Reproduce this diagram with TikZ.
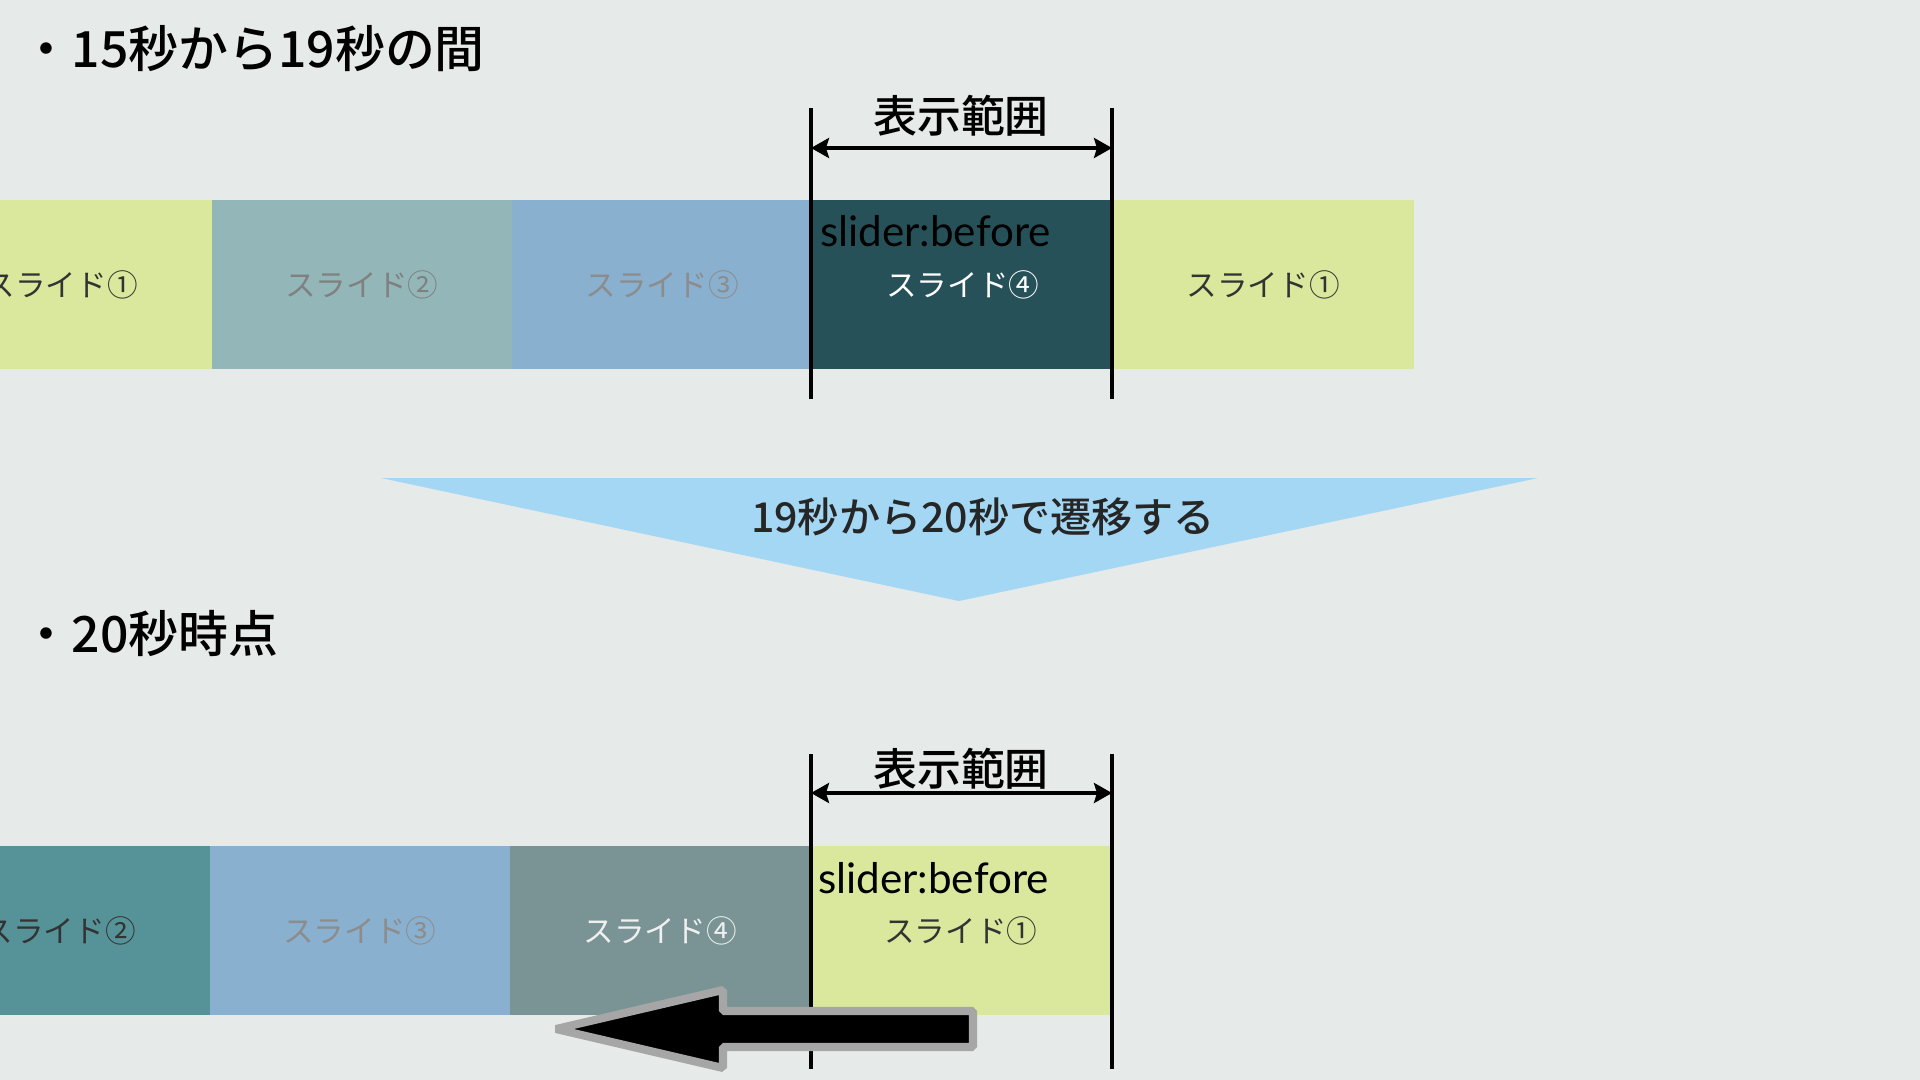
\documentclass[tikz,border=0pt]{standalone}
\usepackage{fontspec}
\setmainfont{Noto Sans CJK JP}
\newfontfamily\midfont{Noto Sans CJK JP Medium}
\newfontfamily\tagfont{Lato}
\usepackage{xcolor}
\usepackage{tikz}
\usetikzlibrary{arrows.meta, positioning, calc}

\definecolor{paper}{HTML}{E6EAE9}
\definecolor{lime}{HTML}{D9E89C}
\definecolor{sage}{HTML}{93B7B9}
\definecolor{steel}{HTML}{89B0CE}
\definecolor{deepteal}{HTML}{265159}
\definecolor{teal}{HTML}{569399}
\definecolor{slate}{HTML}{7A9495}
\definecolor{sky}{HTML}{A4D7F3}

\begin{document}
\begin{tikzpicture}[
        slide/.style={
            rectangle,
            minimum width=3.005cm,
            minimum height=1.69cm,
            inner sep=0pt,
            outer sep=0pt,
            text=black!80,
            font=\fontsize{8.7pt}{10pt}\selectfont
        },
        heading/.style={
            anchor=west,
            inner sep=0pt,
            font=\midfont\fontsize{14.2pt}{17pt}\selectfont
        },
        rangelabel/.style={
            inner sep=0pt,
            font=\midfont\fontsize{12.5pt}{15pt}\selectfont
        },
        tag/.style={
            anchor=west,
            inner sep=0pt,
            font=\tagfont\fontsize{12pt}{14pt}\selectfont
        },
        marker/.style={
            draw,
            line width=1.1pt
        },
        span/.style={
            draw,
            line width=1pt,
            {Stealth[length=1.8mm, width=2mm, inset=0.3mm]}-{Stealth[length=1.8mm, width=2mm, inset=0.3mm]}
        }
    ]
    \useasboundingbox[fill=paper] (0,0) rectangle (19.2,-10.8);
    \clip (0,0) rectangle (19.2,-10.8);

    % Headings
    \node[heading] (head1) at (0.21,-0.49) {・15秒から19秒の間};
    \node[heading] (head2) at (0.21,-6.34) {・20秒時点};

    % Nodes (15-19 s)
    \node[slide, fill=lime] (t1) at (0.6125,-2.845) {スライド①};
    \node[slide, fill=sage, text=black!50, right=0pt of t1] (t2) {スライド②};
    \node[slide, fill=steel, text=black!45, right=0pt of t2] (t3) {スライド③};
    \node[slide, fill=deepteal, text=white, right=0pt of t3] (t4) {スライド④};
    \node[slide, fill=lime, right=0pt of t4] (t5) {スライド①};
    \node[tag] (t4tag) at ($(t4.north west)+(0.07,-0.31)$) {slider:before};

    % Transition
    \fill[sky] (3.81,-4.78) -- (15.38,-4.78) -- (9.59,-6.01) -- cycle;
    \node[font=\midfont\fontsize{11.7pt}{14pt}\selectfont, text=black!85] (move) at (9.83,-5.17) {19秒から20秒で遷移する};

    % Nodes (20 s)
    \node[slide, fill=teal] (b2) at (0.5925,-9.305) {スライド②};
    \node[slide, fill=steel, text=black!45, right=0pt of b2] (b3) {スライド③};
    \node[slide, fill=slate, text=white!94!black, right=0pt of b3] (b4) {スライド④};
    \node[slide, fill=lime, right=0pt of b4] (b1) {スライド①};
    \node[tag] (b1tag) at ($(b1.north west)+(0.07,-0.32)$) {slider:before};

    % Range markers
    \coordinate (tl1) at (8.11,-1.08);
    \coordinate (tl2) at (8.11,-3.99);
    \coordinate (tr1) at (11.12,-1.08);
    \coordinate (tr2) at (11.12,-3.99);
    \coordinate (bl1) at (8.11,-7.54);
    \coordinate (bl2) at (8.11,-10.69);
    \coordinate (br1) at (11.12,-7.54);
    \coordinate (br2) at (11.12,-10.69);
    \path[marker] (tl1) -- (tl2) (tr1) -- (tr2);
    \path[marker] (bl1) -- (bl2) (br1) -- (br2);

    % Arrows
    \coordinate (ta) at (8.11,-1.48);
    \coordinate (tb) at (11.12,-1.48);
    \coordinate (ba) at (8.11,-7.93);
    \coordinate (bb) at (11.12,-7.93);
    \path[span] (ta) -- (tb);
    \path[span] (ba) -- (bb);
    \node[rangelabel] (range1) at (9.61,-1.16) {表示範囲};
    \node[rangelabel] (range2) at (9.61,-7.69) {表示範囲};

    % Slide direction
    \draw[line width=2.3pt, draw=black!35, fill=black, line join=bevel]
        (5.56,-10.29) -- (7.23,-9.90) -- (7.23,-10.11) -- (9.73,-10.11)
        -- (9.73,-10.47) -- (7.23,-10.47) -- (7.23,-10.68) -- cycle;
\end{tikzpicture}
\end{document}
